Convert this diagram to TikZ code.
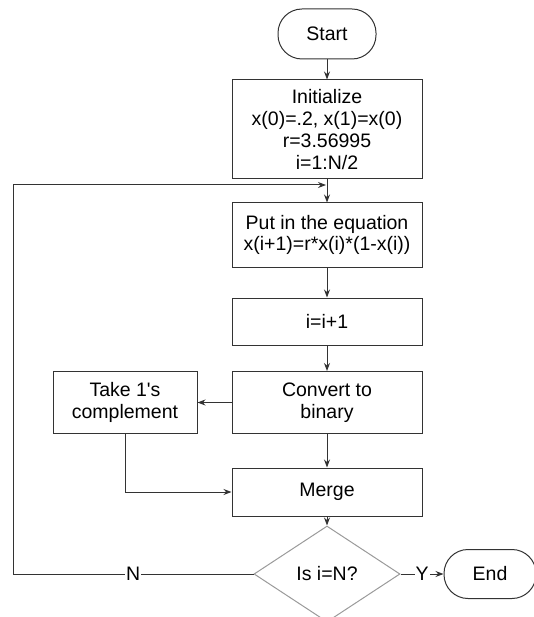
\documentclass[tikz,border=0pt]{standalone}
\usepackage{fontspec}
\setmainfont{Liberation Sans}
\usetikzlibrary{shapes.geometric,arrows.meta}
\definecolor{ln}{HTML}{333333}
\definecolor{dl}{HTML}{9A9A9A}
\begin{document}
\begin{tikzpicture}[x=1pt,y=-1pt,
  every node/.style={font=\fontsize{19.5}{21.7}\selectfont, text=black},
  box/.style={draw=ln, line width=1pt, rectangle, align=center, inner sep=2pt},
  term/.style={draw=ln, line width=1pt, rectangle, rounded corners=24pt, inner sep=2pt},
  dia/.style={draw=dl, line width=1pt, diamond, inner sep=0pt, minimum width=146pt, minimum height=96pt},
  conn/.style={draw=ln, line width=1pt, -{Stealth[length=8pt,width=6pt]}},
  lbl/.style={fill=white, inner sep=1pt}]
\useasboundingbox (0,0) rectangle (534,617);
\node[term, minimum width=98pt, minimum height=50pt] (start) at (327,34) {Start};
\node[box, minimum width=190pt, minimum height=99pt] (init) at (327,129.5) {Initialize\\x(0)=.2, x(1)=x(0)\\r=3.56995\\i=1:N/2};
\node[box, minimum width=190pt, minimum height=64pt] (put) at (327,235) {Put in the equation\\x(i+1)=r*x(i)*(1-x(i))};
\node[box, minimum width=190pt, minimum height=47pt] (inc) at (327,321.5) {i=i+1};
\node[box, minimum width=190pt, minimum height=62pt] (conv) at (327,402.5) {Convert to\\binary};
\node[box, minimum width=144pt, minimum height=62pt] (take) at (125,402.5) {Take 1\textquotesingle s\\complement};
\node[box, minimum width=190pt, minimum height=48pt] (merge) at (327,492) {Merge};
\node[dia] (dec) at (327,574) {Is i=N?};
\node[term, minimum width=92pt, minimum height=49pt] (end) at (490,574) {End};
\coordinate (c1) at (13,574);
\coordinate (c2) at (13,185);
\coordinate (j) at (326,185);
\draw[conn] (start) -- (init);
\draw[conn] (init) -- (put);
\draw[conn] (put) -- (inc);
\draw[conn] (inc) -- (conv);
\draw[conn] (conv) -- (take);
\draw[conn] (conv) -- (merge);
\draw[conn] (take.south) |- (merge.west);
\draw[conn] (merge) -- (dec);
\draw[conn] (dec.east) -- node[lbl]{Y} (end.west);
\draw[conn] (dec.west) -- node[lbl]{N} (c1) -- (c2) -- (j);
\end{tikzpicture}
\end{document}
